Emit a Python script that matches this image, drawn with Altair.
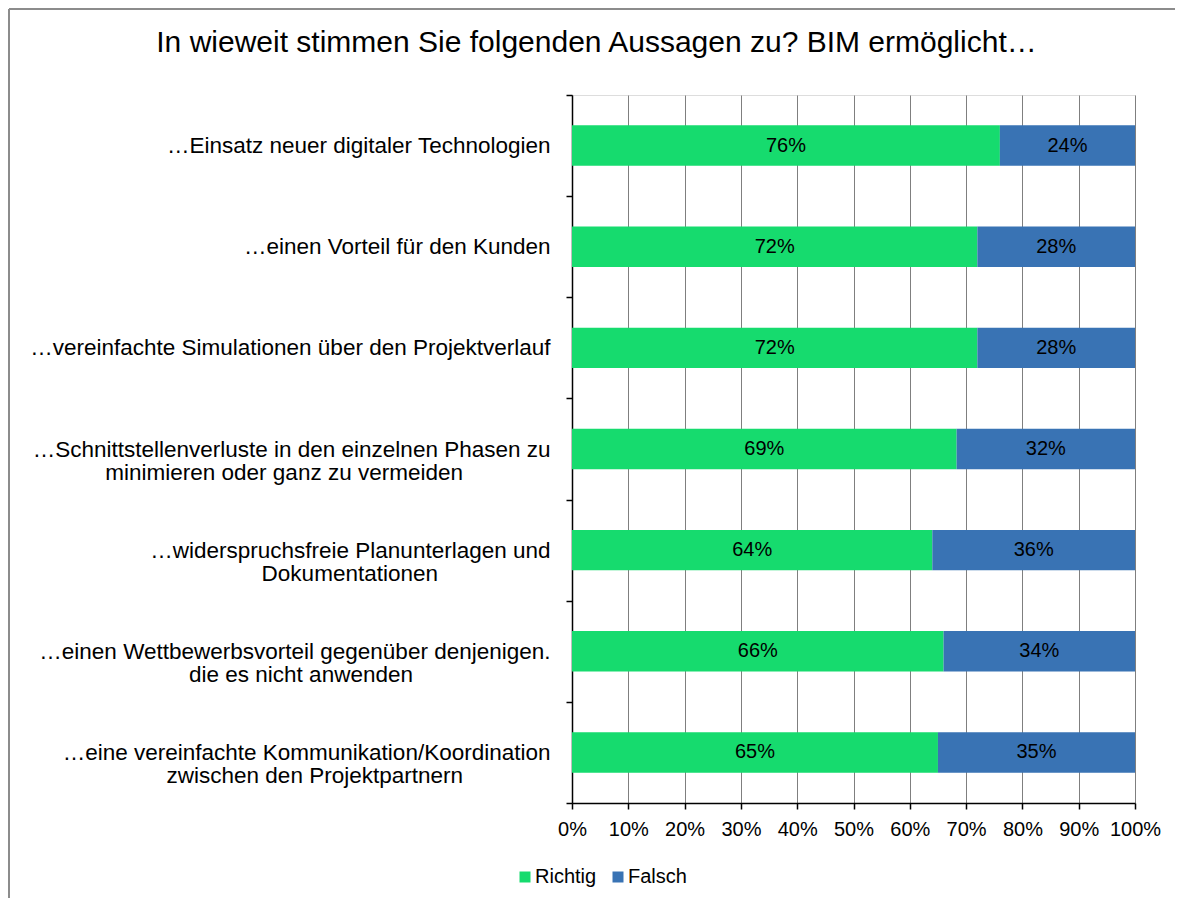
import altair as alt
import pandas as pd

title_text = "In wieweit stimmen Sie folgenden Aussagen zu? BIM ermöglicht…"
categories = [
    "…Einsatz neuer digitaler Technologien",
    "…einen Vorteil für den Kunden",
    "…vereinfachte Simulationen über den Projektverlauf",
    "…Schnittstellenverluste in den einzelnen Phasen zu|minimieren oder ganz zu vermeiden",
    "…widerspruchsfreie Planunterlagen und|Dokumentationen",
    "…einen Wettbewerbsvorteil gegenüber denjenigen.|die es nicht anwenden",
    "…eine vereinfachte Kommunikation/Koordination|zwischen den Projektpartnern",
]
richtig = [76, 72, 72, 69, 64, 66, 65]
falsch = [24, 28, 28, 32, 36, 34, 35]
series = ["Richtig", "Falsch"]
colors = ["#16DB6E", "#3973B4"]

rows = []
for c, r, f in zip(categories, richtig, falsch):
    rows.append({"cat": c, "series": "Richtig", "order": 0, "value": r, "label": f"{r}%"})
    rows.append({"cat": c, "series": "Falsch", "order": 1, "value": f, "label": f"{f}%"})
df = pd.DataFrame(rows)

FONT = "Liberation Sans"

# multi-line labels: the second line is padded at its end with no-break spaces
# (closed by an invisible word joiner so they are not trimmed) so that it sits
# roughly centred under the first line while the block stays right-aligned
l0 = "split(datum.label, '|')[0]"
l1 = "split(datum.label, '|')[1]"
label_expr = (
    f"length(split(datum.label, '|')) > 1 ? "
    f"[{l0}, pad({l1}, length({l1}) + round(0.84 * (length({l0}) - length({l1}))), '\u00a0') + '\u2060']"
    f" : datum.label"
)

base = alt.Chart(df).transform_stack(
    stack="value", as_=["v0", "v1"], groupby=["cat"],
    sort=[alt.SortField("order", order="ascending")], offset="normalize"
).transform_calculate(mid="(datum.v0 + datum.v1) / 2")

yenc = alt.Y(
    "cat:N", sort=categories, title=None,
    scale=alt.Scale(paddingInner=0, paddingOuter=0),
    axis=alt.Axis(
        labelExpr=label_expr,
        labelFont=FONT, labelFontSize=22.5, labelColor="#000000",
        labelLineHeight=23, labelPadding=16, labelLimit=700,
        domainColor="#000000", domainWidth=1.5,
        tickColor="#000000", tickSize=6, tickWidth=1.5, tickBand="extent",
        grid=False,
    ),
)

bars = base.mark_bar(height={"band": 0.4}).encode(
    x=alt.X("v0:Q", scale=alt.Scale(domain=[0, 1], nice=False), title=None,
            axis=alt.Axis(format="%", values=[i / 10 for i in range(11)],
                          labelFont=FONT, labelFontSize=20, labelColor="#000000",
                          labelPadding=10, labelFlush=False,
                          domainColor="#000000", domainWidth=1.5,
                          tickColor="#000000", tickSize=6, tickWidth=1.5,
                          grid=True, gridColor="#7f7f7f", gridWidth=1)),
    x2="v1:Q",
    y=yenc,
    color=alt.Color("series:N", sort=series,
                    scale=alt.Scale(domain=series, range=colors),
                    legend=alt.Legend(title=None, orient="none", direction="horizontal",
                                      legendX=-57, legendY=772,
                                      symbolType="square", symbolSize=121,
                                      symbolStrokeWidth=0,
                                      labelFont=FONT, labelFontSize=20, labelColor="#000000",
                                      columnPadding=11, labelOffset=0)),
    order=alt.Order("order:Q"),
)

texts = base.mark_text(font=FONT, fontSize=20, color="#000000", baseline="middle").encode(
    x=alt.X("mid:Q"),
    y=alt.Y("cat:N", sort=categories),
    text="label:N",
)

# outer chart frame (top and left edges; the others run off the picture)
frame_data = alt.Data(values=[{"f": 1}])
frame_top = alt.Chart(frame_data).mark_rule(color="#8c8c8c", strokeWidth=2).encode(
    x=alt.value(-563), x2=alt.value(700), y=alt.value(-86), y2=alt.value(-86)
)
frame_left = alt.Chart(frame_data).mark_rule(color="#8c8c8c", strokeWidth=2).encode(
    x=alt.value(-563), x2=alt.value(-563), y=alt.value(-86), y2=alt.value(803)
)

chart = alt.layer(frame_top, frame_left, bars, texts).properties(
    width=563, height=708,
    title=alt.TitleParams(title_text, font=FONT, fontSize=30, fontWeight="normal",
                          color="#000000", anchor="middle", dx=-257,
                          baseline="alphabetic", offset=-74),
    padding={"left": 564, "top": 87, "right": 40, "bottom": 95},
    autosize=alt.AutoSizeParams(type="none"),
).configure_view(stroke=None).configure(background="#ffffff")

chart.save("out.html", embed_options={"renderer": "svg", "actions": False})
